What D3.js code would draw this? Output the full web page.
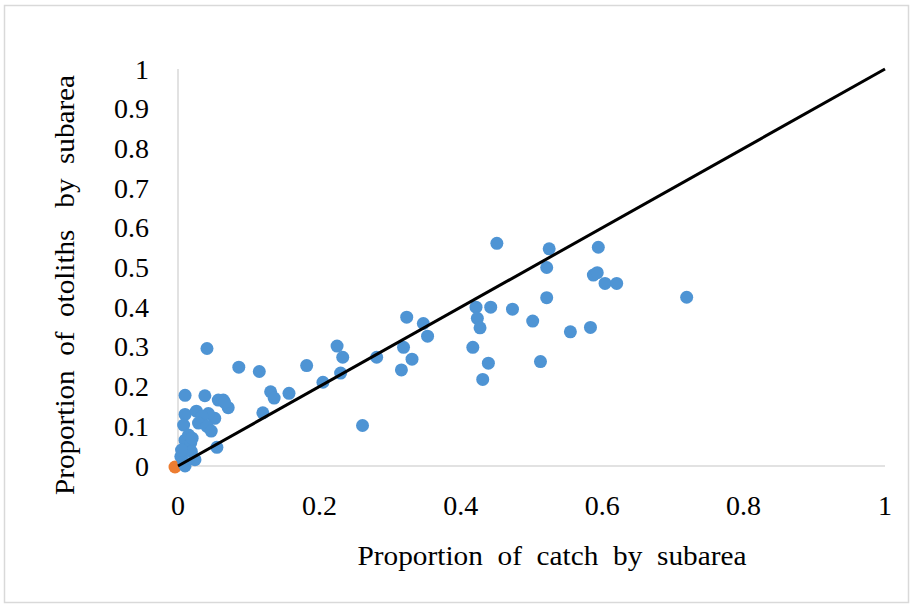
<!DOCTYPE html>
<html><head><meta charset="utf-8">
<script src="https://cdn.jsdelivr.net/npm/d3@7"></script>
<style>body{margin:0;background:#fff}svg{display:block}svg text{font-family:'Liberation Serif','Tinos','Times New Roman',Times,'DejaVu Serif',serif;fill:#000}</style>
</head><body>
<svg id="c" width="911" height="605"></svg>
<script>
const catchProp = [0.010,0.038,0.041,0.057,0.064,0.071,0.066,0.052,0.010,0.026,0.043,0.034,0.008,0.029,0.041,0.047,0.015,0.010,0.018,0.020,0.055,0.019,0.004,0.024,0.008,0.010,0.005,
0.086,0.115,0.131,0.136,0.120,0.157,0.182,0.205,0.225,0.233,0.230,0.261,0.281,0.3235,0.347,0.353,0.319,0.331,0.316,0.417,0.439,0.431,0.451,0.525,0.5215,0.5215,0.4215,0.4423,0.4731,0.4234,0.4272,0.5017,0.5127,0.5945,0.5875,0.593,0.604,0.6205,0.7195,0.555,0.5834];
const otolithProp = [0.178,0.177,0.296,0.166,0.166,0.147,0.160,0.120,0.130,0.138,0.132,0.125,0.103,0.108,0.100,0.088,0.078,0.065,0.058,0.070,0.047,0.036,0.024,0.016,0.011,0.000,0.040,
0.249,0.238,0.187,0.171,0.134,0.183,0.253,0.211,0.302,0.274,0.234,0.102,0.274,0.375,0.359,0.327,0.299,0.269,0.242,0.299,0.259,0.218,0.561,0.547,0.500,0.424,0.400,0.400,0.395,0.372,0.348,0.365,0.263,0.551,0.481,0.487,0.460,0.460,0.425,0.338,0.349];
const originPoint = [[0,0]];
const lineX = [0,1];
const lineY = [0,1];
const xTicks = [0,0.2,0.4,0.6,0.8,1];
const yTicks = [0,0.1,0.2,0.3,0.4,0.5,0.6,0.7,0.8,0.9,1];
const xTitle = "Proportion  of  catch  by  subarea";
const yTitle = "Proportion  of  otoliths   by  subarea";
const FONT = "'Liberation Serif','Tinos','Times New Roman',Times,'DejaVu Serif',serif";

const svg = d3.select("#c");
svg.append("rect").attr("x",4.5).attr("y",5.5).attr("width",904).attr("height",597)
  .attr("fill","#fff").attr("stroke","#d9d9d9").attr("stroke-width",1.5);

const x = d3.scaleLinear().domain([0,1]).range([178,885]);
const y = d3.scaleLinear().domain([0,1]).range([466,69]);

svg.append("line").attr("x1",x(0)).attr("x2",x(1)).attr("y1",y(0)).attr("y2",y(0)).attr("stroke","#d9d9d9").attr("stroke-width",1.5);
svg.append("line").attr("x1",x(0)).attr("x2",x(0)).attr("y1",y(0)).attr("y2",y(1)).attr("stroke","#d9d9d9").attr("stroke-width",1.5);

const fmt = d => String(d);
svg.append("g").selectAll("text").data(xTicks).join("text")
  .attr("font-family",FONT)
  .attr("x",d=>x(d)).attr("y",515).attr("text-anchor","middle").attr("font-size",28).text(fmt);
svg.append("g").selectAll("text").data(yTicks).join("text")
  .attr("font-family",FONT)
  .attr("x",149).attr("y",d=>y(d)+9.5).attr("text-anchor","end").attr("font-size",28).text(fmt);

const pts = catchProp.map((c,i)=>[c,otolithProp[i]]);
svg.append("g").selectAll("circle.o").data(originPoint).join("circle")
  .attr("cx",d=>x(d[0])-3).attr("cy",d=>y(d[1])+1).attr("r",6.5).attr("fill","#ed7d31");
svg.append("g").selectAll("circle").data(pts).join("circle")
  .attr("cx",d=>x(d[0])).attr("cy",d=>y(d[1])).attr("r",6.5).attr("fill","#4e94d4");

svg.append("path").datum(lineX.map((v,i)=>[v,lineY[i]]))
  .attr("d",d3.line().x(d=>x(d[0])).y(d=>y(d[1])))
  .attr("stroke","#000").attr("stroke-width",3).attr("fill","none");

svg.append("text").attr("font-family",FONT).attr("x",552).attr("y",565).attr("text-anchor","middle").attr("font-size",27)
  .attr("textLength",389).attr("lengthAdjust","spacingAndGlyphs").style("white-space","pre").text(xTitle);
svg.append("text").attr("font-family",FONT).attr("transform","translate(74,285) rotate(-90)").attr("text-anchor","middle").attr("font-size",27)
  .attr("textLength",420).attr("lengthAdjust","spacingAndGlyphs").style("white-space","pre").text(yTitle);
</script>
</body></html>
